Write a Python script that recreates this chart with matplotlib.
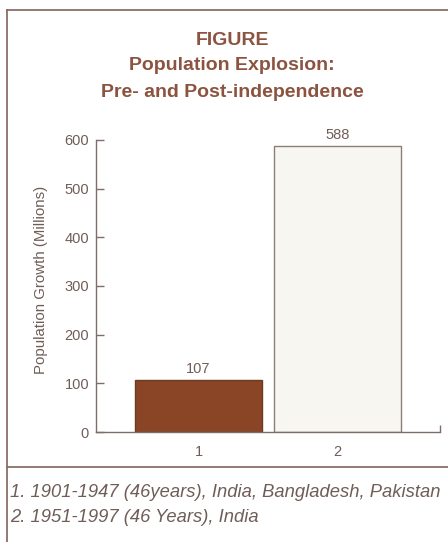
import matplotlib
matplotlib.use("Agg")
import matplotlib.pyplot as plt
from matplotlib.lines import Line2D

plt.rcParams['font.family'] = ['Liberation Sans', 'DejaVu Sans']

# Data
categories = ["1", "2"]
growth_millions = [107, 588]
bar_colors = ["#8a4526", "#f8f6f1"]
edge_colors = ["#6e3a22", "#8c7c78"]
title_lines = ["FIGURE", "Population Explosion:", "Pre- and Post-independence"]
notes = ["1. 1901-1947 (46years), India, Bangladesh, Pakistan",
         "2. 1951-1997 (46 Years), India"]
y_ticks = [0, 100, 200, 300, 400, 500, 600]

TITLE_C = "#8c5440"
TEXT_C = "#6f5d58"
AXIS_C = "#7d6e6a"
FRAME_C = "#8a6e66"

W, H = 448, 542
fig = plt.figure(figsize=(W / 100, H / 100), dpi=100)
fig.patch.set_facecolor("white")

ax = fig.add_axes([96 / W, 1 - 432 / H, (440 - 96) / W, (432 - 140) / H])
x = [1, 2]
bars = ax.bar(x, growth_millions, width=0.91, color=bar_colors,
              edgecolor=edge_colors, linewidth=1.0)
ax.bar_label(bars, labels=[str(v) for v in growth_millions], padding=3,
             fontsize=10.5, color=TEXT_C)

x_min, x_max = 0.263, 2.737
ax.set_xlim(x_min, x_max)
ax.set_ylim(0, 600)
ax.set_xticks(x)
ax.set_xticklabels(categories)
ax.set_xticks([x_max], minor=True)
ax.set_yticks(y_ticks)

ax.tick_params(axis="y", direction="in", length=6, width=1, color=AXIS_C,
               labelcolor=TEXT_C, labelsize=10.5, pad=5)
ax.tick_params(axis="x", which="major", length=0, labelcolor=TEXT_C,
               labelsize=10.5, pad=9)
ax.tick_params(axis="x", which="minor", direction="in", length=5, width=1,
               color=AXIS_C)

for side in ("top", "right"):
    ax.spines[side].set_visible(False)
for side in ("left", "bottom"):
    ax.spines[side].set_color(AXIS_C)
    ax.spines[side].set_linewidth(1.0)

ax.set_ylabel("Population Growth (Millions)", fontsize=10.8, color=TEXT_C)
ax.yaxis.set_label_coords(-(96 - 48) / (440 - 96), (432 - 280) / (432 - 140))

# Title block
for line, base in zip(title_lines, [45, 70, 97]):
    fig.text(232 / W, 1 - base / H, line, ha="center", va="baseline",
             fontsize=14, fontweight="bold", color=TITLE_C)

# Outer frame and divider
fig.add_artist(Line2D([7 / W, 7 / W], [0, 1 - 10 / H], transform=fig.transFigure,
                      color=FRAME_C, linewidth=1.3))
fig.add_artist(Line2D([7 / W, 1], [1 - 10 / H, 1 - 10 / H], transform=fig.transFigure,
                      color=FRAME_C, linewidth=1.3))
fig.add_artist(Line2D([7 / W, 1], [1 - 467 / H, 1 - 467 / H], transform=fig.transFigure,
                      color=FRAME_C, linewidth=1.3))

# Footnotes
for note, base in zip(notes, [497, 522]):
    fig.text(10 / W, 1 - base / H, note, ha="left", va="baseline",
             fontsize=13.2, style="italic", color=TEXT_C)

fig.savefig("out.png", dpi=100, facecolor="white")
